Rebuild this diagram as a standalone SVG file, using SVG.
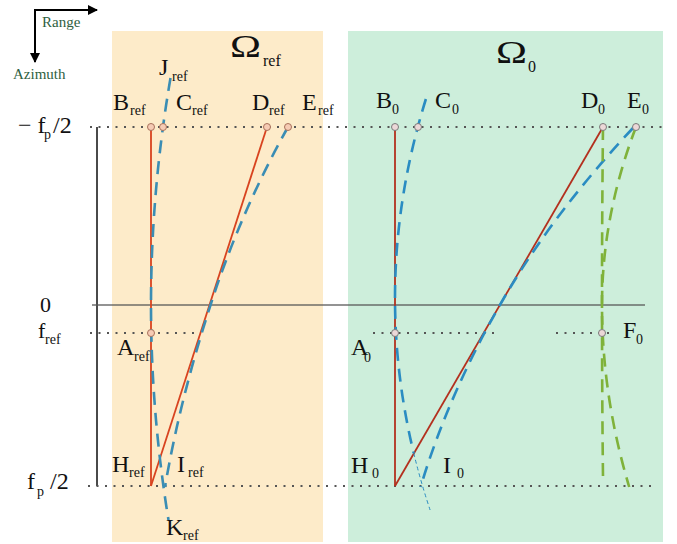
<svg xmlns="http://www.w3.org/2000/svg" width="677" height="544" viewBox="0 0 677 544">
<defs>
<style>
.t{font-family:"Liberation Serif","Times New Roman",serif;fill:#111}
.lb{font-size:24px}
.sb{font-size:14px}
.dot{stroke:#555;stroke-width:2;stroke-dasharray:2 6.5;fill:none}
.redA{stroke:#d8431f;stroke-width:1.8;fill:none}
.redB{stroke:#b3301e;stroke-width:1.8;fill:none}
.blue{stroke:#2a8cc2;stroke-width:2.6;stroke-dasharray:13 8;fill:none}
.blueA{stroke:#3a8db4;stroke-width:2.6;stroke-dasharray:13 8;fill:none}
.thin{stroke:#2a8cc2;stroke-width:1;stroke-dasharray:4 3;fill:none}
.grn{stroke:#7fb23a;stroke-width:2.6;stroke-dasharray:13 8;fill:none}
.pA{fill:#f6cbb4;stroke:#a8705a;stroke-width:1}
.pB{fill:#ecd8d8;stroke:#7a7a7a;stroke-width:1}
.ax{font-family:"Liberation Serif","Times New Roman",serif;font-size:15px;fill:#2f5f3f}
</style>
<marker id="ah" viewBox="0 0 10 10" refX="9" refY="5" markerWidth="5" markerHeight="5" orient="auto" markerUnits="strokeWidth">
<path d="M0,0 L10,5 L0,10 z" fill="#000"/>
</marker>
</defs>
<rect width="677" height="544" fill="#fff"/>
<g id="panel-ref">
<rect x="112" y="31" width="211" height="511" fill="#fdebc9"/>
<text class="t" x="230" y="57" font-size="31" textLength="31" lengthAdjust="spacingAndGlyphs">Ω</text>
<text class="t" x="263" y="66" font-size="16">ref</text>
</g>
<g id="panel-0">
<rect x="348" y="31" width="315" height="511" fill="#cdeedb"/>
<text class="t" x="496" y="63" font-size="31" textLength="31" lengthAdjust="spacingAndGlyphs">Ω</text>
<text class="t" x="528" y="72" font-size="16">0</text>
</g>
<g id="axes">
<path d="M35,10 L97,10" stroke="#000" stroke-width="2" fill="none" marker-end="url(#ah)"/>
<path d="M35,9 L35,62" stroke="#000" stroke-width="2" fill="none" marker-end="url(#ah)"/>
<text class="ax" x="42" y="27">Range</text>
<text class="ax" x="13" y="79">Azimuth</text>
<line x1="97" y1="127" x2="97" y2="486" stroke="#4a4a4a" stroke-width="2"/>
<line x1="92" y1="305" x2="645" y2="305" stroke="#555" stroke-width="1.4" stroke-opacity="0.85"/>
<text class="t lb" x="18" y="133">− f</text>
<text class="t sb" x="44" y="139">p</text>
<text class="t lb" x="53" y="133">/2</text>
<text class="t" x="40" y="312" font-size="22">0</text>
<text class="t" x="38" y="338" font-size="22">f</text>
<text class="t sb" x="45" y="344">ref</text>
<text class="t lb" x="27" y="489">f</text>
<text class="t sb" x="37" y="496">p</text>
<text class="t lb" x="50" y="489">/2</text>
</g>
<g id="grid">
<line class="dot" x1="90" y1="127" x2="665" y2="127"/>
<line class="dot" x1="88" y1="486" x2="652" y2="486"/>
<line class="dot" x1="90" y1="333" x2="198" y2="333"/>
<line class="dot" x1="373" y1="333" x2="498" y2="333"/>
<line class="dot" x1="556" y1="333" x2="612" y2="333"/>
</g>
<g id="connectors">
<path class="redA" d="M151,127 L151,486"/>
<path class="redA" d="M267,127 L151,486"/>
<path class="blueA" d="M170.5,78 Q151,191.5 151,305 Q151,412.5 168.5,520"/>
<path class="blueA" d="M288,127 Q240.5,212 210.5,305 Q179.6,400.7 165,487"/>
<path class="redB" d="M395,127 L395,486"/>
<path class="redB" d="M603,127 L395,486"/>
<path class="blue" d="M425.9,99 Q395,198.5 395,298 Q395,375.5 413.7,453"/>
<path class="thin" d="M413.7,453 Q420.6,481.5 430.1,510"/>
<path class="blue" d="M633,128 Q553,213.5 502.8,300 Q448.6,393.5 420.6,487"/>
<path class="grn" d="M603,127 Q601,305 603,478"/>
<path class="grn" d="M636,127 Q602,216 602,305 Q602,396 629.2,487"/>
</g>
<g id="node-Bref"><circle class="pA" cx="151" cy="127" r="3.5"/><text class="t lb" x="113" y="110">B</text><text class="t sb" x="130" y="115">ref</text></g>
<g id="node-Cref"><circle class="pA" cx="163" cy="127" r="3.5"/><text class="t lb" x="176" y="110">C</text><text class="t sb" x="192" y="115">ref</text></g>
<g id="node-Dref"><circle class="pA" cx="267" cy="127" r="3.5"/><text class="t lb" x="252" y="110">D</text><text class="t sb" x="269" y="115">ref</text></g>
<g id="node-Eref"><circle class="pA" cx="288" cy="127" r="3.5"/><text class="t lb" x="302" y="110">E</text><text class="t sb" x="318" y="115">ref</text></g>
<g id="node-Jref"><text class="t lb" x="159" y="75">J</text><text class="t sb" x="172" y="81">ref</text></g>
<g id="node-Aref"><circle class="pA" cx="151" cy="333" r="3.5"/><text class="t lb" x="117" y="355">A</text><text class="t sb" x="134" y="361">ref</text></g>
<g id="node-Href"><text class="t lb" x="112" y="472">H</text><text class="t sb" x="129" y="477">ref</text></g>
<g id="node-Iref"><text class="t lb" x="177" y="472">I</text><text class="t sb" x="188" y="477">ref</text></g>
<g id="node-Kref"><text class="t lb" x="166" y="535">K</text><text class="t sb" x="183" y="540">ref</text></g>
<g id="node-B0"><circle class="pB" cx="395" cy="127" r="3.5"/><text class="t lb" x="376" y="108">B</text><text class="t sb" x="392" y="114">0</text></g>
<g id="node-C0"><circle class="pB" cx="418" cy="127" r="3.5"/><text class="t lb" x="435" y="108">C</text><text class="t sb" x="452" y="114">0</text></g>
<g id="node-D0"><circle class="pB" cx="603" cy="127" r="3.5"/><text class="t lb" x="581" y="108">D</text><text class="t sb" x="598" y="114">0</text></g>
<g id="node-E0"><circle class="pB" cx="636" cy="127" r="3.5"/><text class="t lb" x="627" y="108">E</text><text class="t sb" x="642" y="114">0</text></g>
<g id="node-A0"><circle class="pB" cx="395" cy="333" r="3.5"/><text class="t lb" x="351" y="355">A</text><text class="t sb" x="364" y="362">0</text></g>
<g id="node-F0"><circle class="pB" cx="602" cy="333" r="3.5"/><text class="t lb" x="623" y="338">F</text><text class="t sb" x="636" y="344">0</text></g>
<g id="node-H0"><text class="t lb" x="351" y="473">H</text><text class="t sb" x="372" y="478">0</text></g>
<g id="node-I0"><text class="t lb" x="443" y="473">I</text><text class="t sb" x="457" y="478">0</text></g>
</svg>
